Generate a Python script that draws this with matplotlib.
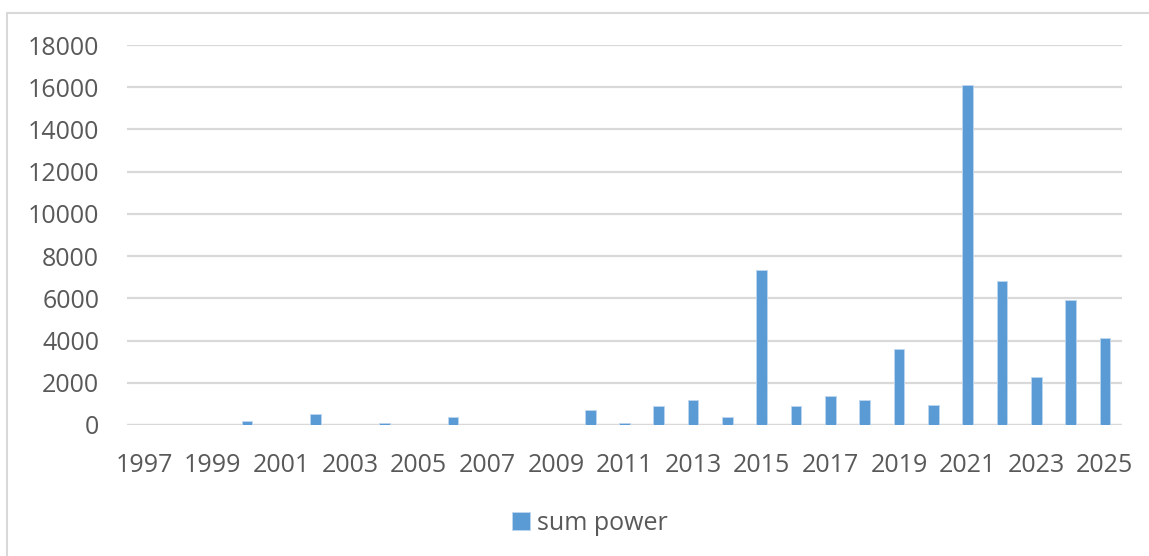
import matplotlib
matplotlib.use("Agg")
import matplotlib.pyplot as plt
from matplotlib.patches import Rectangle

years = list(range(1997, 2026))
power = [0, 0, 0, 200, 0, 520, 0, 80, 0, 370, 0, 0, 0, 720, 100,
         880, 1180, 380, 7350, 880, 1380, 1180, 3600, 970, 16100,
         6830, 2280, 5920, 4100]
tick_labels = [str(y) if (y - 1997) % 2 == 0 else "" for y in years]

plt.rcParams['font.family'] = ['Open Sans', 'DejaVu Sans']

fig = plt.figure(figsize=(11.49, 5.56), dpi=100)
ax = fig.add_axes([127 / 1149, 1 - 425 / 556, (1122 - 127) / 1149, 380 / 556])

x = list(range(len(years)))
ax.bar(x, power, width=0.31, color="#5B9BD5", edgecolor="#BDD7EE",
       linewidth=0.6, label="sum power", zorder=3)

ax.set_xlim(-0.5, len(years) - 0.5)
ax.set_ylim(0, 18000)
ax.set_yticks(range(0, 18001, 2000))
ax.set_xticks(x)
ax.set_xticklabels(tick_labels)
ax.grid(axis="y", color="#D9D9D9", linewidth=1.6, zorder=0)
ax.set_axisbelow(True)
for s in ax.spines.values():
    s.set_visible(False)
ax.axhline(0, color="#D9D9D9", linewidth=1.6, zorder=1)
ax.tick_params(axis="both", length=0, labelsize=18, labelcolor="#595959")
ax.tick_params(axis="y", pad=20)
ax.tick_params(axis="x", pad=20)

fig.legend(loc="center", bbox_to_anchor=(590 / 1149, 1 - 523 / 556),
           frameon=False, fontsize=18, labelcolor="#595959",
           handlelength=0.7, handleheight=0.7, handletextpad=0.3)

# chart border
fig.patches.append(Rectangle((7 / 1149, -0.1), 1.2, 1.1 - 13 / 556,
                             transform=fig.transFigure, fill=False,
                             edgecolor="#D9D9D9", linewidth=1.5))

fig.savefig("out.png", dpi=100)
